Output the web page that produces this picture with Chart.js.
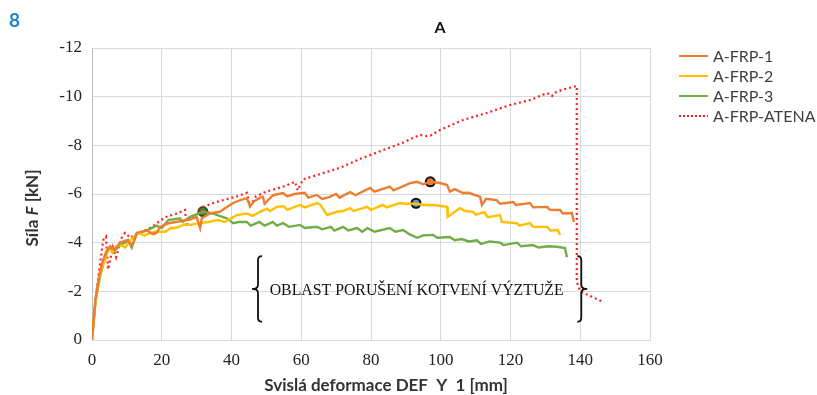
<!DOCTYPE html>
<html>
<head>
<meta charset="utf-8">
<script src="https://cdn.jsdelivr.net/npm/chart.js@4/dist/chart.umd.min.js"></script>
<style>
  html, body { margin: 0; padding: 0; background: #fff; }
  #wrap { width: 817px; height: 395px; position: relative; }
</style>
</head>
<body>
<div id="wrap"><canvas id="myChart" width="817" height="395"></canvas></div>
<script>
// series names and colours
const seriesNames = ["A-FRP-1", "A-FRP-2", "A-FRP-3", "A-FRP-ATENA"];
const seriesColors = ["#ED7D31", "#FFC000", "#70AD47", "#FF2020"];

// A-FRP-1 (deformation mm, force kN)
const frp1X = [0, 1, 2, 3, 4, 5.2, 6.5, 8, 10, 11.5, 12.9, 15.7, 17.5, 18.5, 19.5, 22, 24, 26, 28, 30, 31, 31.5,
  33.8, 36.7, 38.7, 40.5, 42.5, 44.4, 45.3, 46.5, 48.2, 49, 49.5, 51.9, 54.8, 56, 58, 61, 62, 64.5, 66, 68.2,
  70, 71, 74, 75.5, 79.7, 81, 85.4, 86.5, 91.2, 93.2, 95, 97, 99.8, 101.8, 102.6, 104, 106.4, 108, 111.3, 111.8,
  113, 116, 117, 120.8, 121.5, 125.6, 126.5, 130.5, 131.3, 134.2, 135, 137.6, 138.2];
const frp1F = [0, -1.7, -2.6, -3.2, -3.6, -3.85, -3.7, -4.0, -4.1, -3.9, -4.4, -4.5, -4.35, -4.4, -4.65, -4.8, -4.85, -4.9, -4.95, -5.05, -4.6, -5.0,
  -5.2, -5.27, -5.47, -5.63, -5.75, -5.83, -5.5, -5.7, -5.85, -5.88, -5.6, -5.95, -6.04, -5.9, -6.0, -6.05, -5.85, -5.96, -5.8, -5.88,
  -6.0, -5.85, -6.08, -5.95, -6.25, -6.1, -6.3, -6.15, -6.45, -6.5, -6.4, -6.5, -6.45, -6.37, -6.1, -6.2, -6.04, -6.05, -5.88, -5.55,
  -5.8, -5.75, -5.6, -5.67, -5.55, -5.63, -5.45, -5.47, -5.35, -5.34, -5.2, -5.22, -4.85];

// A-FRP-2
const frp2X = [0, 1, 2, 3, 4, 4.6, 6, 7, 8.3, 9.5, 11, 13.2, 15, 18, 21, 22.6, 24, 26.5, 28.4, 30.4, 33.3, 36.1,
  38, 41.5, 44.4, 46, 48.2, 50.2, 51, 53, 55, 56, 59.6, 61, 64.5, 65.5, 67.4, 70.2, 72, 74, 75, 78.9, 80,
  83.4, 84.5, 88.3, 90, 93, 95, 97.8, 101.8, 102, 105.5, 107, 109.2, 110, 112.5, 113.5, 117, 117.5, 121.9, 122.5, 125.6,
  126.5, 130.5, 131.5, 133.6, 134.2];
const frp2F = [0, -1.6, -2.5, -3.0, -3.4, -3.78, -3.6, -3.85, -3.9, -3.8, -4.1, -4.4, -4.3, -4.45, -4.45, -4.6, -4.6, -4.75, -4.73, -4.8, -4.85, -4.93,
  -4.85, -5.13, -5.2, -5.1, -5.27, -5.4, -5.3, -5.47, -5.5, -5.35, -5.55, -5.45, -5.63, -5.55, -5.13, -5.27, -5.3, -5.42, -5.3, -5.47, -5.35,
  -5.55, -5.45, -5.63, -5.6, -5.6, -5.55, -5.55, -5.47, -5.06, -5.42, -5.3, -5.27, -5.15, -5.25, -5.05, -5.13, -4.85, -4.8, -4.7, -4.8,
  -4.65, -4.65, -4.5, -4.52, -4.32];

// A-FRP-3
const frp3X = [0, 1, 2.3, 3.3, 4.3, 5.2, 6, 8, 9.5, 10.4, 11.4, 12.9, 15.7, 18.5, 20, 21.9, 25.2, 26, 28, 31.8, 34.7,
  36.5, 38.7, 40.5, 42, 44.4, 45.5, 48, 49.5, 51.9, 53, 54.8, 56.5, 59.6, 61, 64.5, 66, 68.5, 69.5, 72, 73.5,
  76, 77.5, 79, 81, 85.4, 87, 89.2, 91, 93.2, 95, 97.8, 99, 102.6, 104, 106, 108, 110.4, 111.5, 114, 117, 118,
  121.9, 123, 126.5, 128, 131, 133.3, 135.6, 136.2];
const frp3F = [0, -1.6, -2.6, -3.2, -3.6, -3.8, -3.6, -3.9, -4.0, -4.1, -3.8, -4.4, -4.5, -4.7, -4.6, -4.93, -5.0, -4.85, -5.05, -5.27, -5.2,
  -5.1, -5.0, -4.8, -4.85, -4.85, -4.7, -4.85, -4.7, -4.85, -4.7, -4.8, -4.65, -4.73, -4.6, -4.65, -4.55, -4.65, -4.5, -4.65, -4.5,
  -4.6, -4.45, -4.6, -4.45, -4.6, -4.45, -4.52, -4.35, -4.2, -4.3, -4.32, -4.2, -4.23, -4.1, -4.15, -4.05, -4.1, -3.95, -4.05, -4.0, -3.9,
  -4.0, -3.85, -3.9, -3.8, -3.85, -3.83, -3.78, -3.4];

// A-FRP-ATENA
const atenaX = [0, 1, 1.7, 3.2, 4, 4.3, 4.6, 6, 6.9, 8.5, 9.5, 11, 12.5, 15.2, 17.2, 21, 24.4, 26.7, 27, 28, 30.4, 31.8,
  35.6, 39, 41.5, 44.4, 45.3, 47, 50, 54.8, 58.2, 59, 60.5, 65, 71, 77, 83.4, 89, 94, 96, 97, 99.8, 106.4,
  113.2, 119.9, 125.6, 130.5, 131.9, 132.5, 134.8, 139, 139, 140, 143, 146];
const atenaF = [0, -1.6, -2.47, -4.1, -4.25, -3.6, -2.9, -3.8, -3.4, -4.2, -4.4, -4.2, -4.35, -4.5, -4.65, -5.05, -5.2, -5.35, -4.65, -5.0, -5.2, -5.47,
  -5.67, -5.8, -5.9, -6.05, -5.5, -5.9, -6.1, -6.3, -6.5, -6.15, -6.6, -6.8, -7.07, -7.45, -7.8, -8.1, -8.43, -8.38, -8.4, -8.63, -9.04,
  -9.33, -9.66, -9.86, -10.15, -10.03, -10.15, -10.28, -10.44, -2.4, -2.0, -1.8, -1.6];

// highlighted points (FRP-1, FRP-2, FRP-3)
const markerX = [97, 92.9, 31.8];
const markerF = [-6.5, -5.62, -5.28];
const markerFill = ["#ED7D31", "#5B9BD5", "#548235"];
const markerEdge = ["#111111", "#111111", "#2f4f1c"];

// annotation region (data units)
const zoneLabel = "OBLAST PORUŠENÍ KOTVENÍ VÝZTUŽE";
const zoneX = [47.6, 140.3];
const zoneF = [-3.45, -0.75];

function zip(xs, ys) {
  return xs.map((x, i) => ({ x: x, y: ys[i] }));
}

const lineSets = [
  { label: seriesNames[0], data: zip(frp1X, frp1F), borderColor: seriesColors[0], borderWidth: 2.4 },
  { label: seriesNames[1], data: zip(frp2X, frp2F), borderColor: seriesColors[1], borderWidth: 2.4 },
  { label: seriesNames[2], data: zip(frp3X, frp3F), borderColor: seriesColors[2], borderWidth: 2.4 },
  { label: seriesNames[3], data: zip(atenaX, atenaF), borderColor: seriesColors[3], borderWidth: 2.2, borderDash: [2, 3] },
].map((d) => Object.assign(d, { pointRadius: 0, tension: 0, fill: false }));

const markerSets = markerX.map((x, i) => ({
  label: "marker" + i,
  data: [{ x: x, y: markerF[i] }],
  showLine: false,
  pointRadius: 4.5,
  pointBackgroundColor: markerFill[i],
  pointBorderColor: markerEdge[i],
  pointBorderWidth: 2,
}));

// texts, braces and legend drawn on top
const extras = {
  id: "extras",
  afterDraw(chart) {
    const ctx = chart.ctx;
    const xs = chart.scales.x;
    const ys = chart.scales.y;
    ctx.save();

    // figure number
    ctx.fillStyle = "#1F86C8";
    ctx.font = "bold 19px Lato";
    ctx.textAlign = "left";
    ctx.textBaseline = "middle";
    ctx.fillText("8", 9, 21);

    // title
    ctx.fillStyle = "#111";
    ctx.font = "bold 16px Lato";
    ctx.textAlign = "center";
    ctx.fillText("A", 440, 28);

    // x title
    ctx.fillStyle = "#333";
    ctx.font = "bold 17px Lato";
    ctx.fillText("Svislá deformace DEF  Y  1 [mm]", 386, 386);

    // y title with italic F
    const parts = [["Síla ", "bold 17px Lato"], ["F", "italic bold 17px Lato"], [" [kN]", "bold 17px Lato"]];
    let total = 0;
    parts.forEach((p) => { ctx.font = p[1]; total += ctx.measureText(p[0]).width; });
    ctx.translate(33, 208);
    ctx.rotate(-Math.PI / 2);
    ctx.textAlign = "left";
    let px = -total / 2;
    parts.forEach((p) => {
      ctx.font = p[1];
      ctx.fillText(p[0], px, 0);
      px += ctx.measureText(p[0]).width;
    });
    ctx.setTransform(1, 0, 0, 1, 0, 0);

    // braces
    const lx = xs.getPixelForValue(zoneX[0]);
    const rx = xs.getPixelForValue(zoneX[1]);
    const top = ys.getPixelForValue(zoneF[0]);
    const bot = ys.getPixelForValue(zoneF[1]);
    const mid = (top + bot) / 2;
    ctx.strokeStyle = "#111";
    ctx.lineWidth = 1.8;
    function brace(x, dir) {
      const r = 4;
      ctx.beginPath();
      ctx.moveTo(x + dir * r, top);
      ctx.quadraticCurveTo(x, top, x, top + r);
      ctx.lineTo(x, mid - r);
      ctx.quadraticCurveTo(x, mid, x - dir * 6, mid);
      ctx.quadraticCurveTo(x, mid, x, mid + r);
      ctx.lineTo(x, bot - r);
      ctx.quadraticCurveTo(x, bot, x + dir * r, bot);
      ctx.stroke();
    }
    brace(lx, 1);
    brace(rx, -1);

    ctx.fillStyle = "#111";
    ctx.font = "16px 'Liberation Serif'";
    ctx.textAlign = "center";
    ctx.textBaseline = "middle";
    ctx.fillText(zoneLabel, (lx + rx) / 2 - 3, mid + 2, 294);

    // legend
    ctx.font = "16px Lato";
    ctx.textAlign = "left";
    const rows = [56, 76, 96, 116];
    lineSets.forEach((d, i) => {
      ctx.strokeStyle = d.borderColor;
      ctx.lineWidth = 2;
      ctx.setLineDash(d.borderDash ? [2, 2] : []);
      ctx.beginPath();
      ctx.moveTo(679, rows[i]);
      ctx.lineTo(708, rows[i]);
      ctx.stroke();
      ctx.fillStyle = "#404040";
      ctx.fillText(d.label, 713, rows[i] + 1);
    });
    ctx.restore();
  },
};

const ctx = document.getElementById("myChart").getContext("2d");
const myChart = new Chart(ctx, {
  type: "line",
  data: { datasets: lineSets.concat(markerSets) },
  options: {
    responsive: false,
    animation: false,
    layout: { padding: { left: 0, top: 48, right: 167, bottom: 0 } },
    plugins: { legend: { display: false }, tooltip: { enabled: false } },
    scales: {
      x: {
        type: "linear",
        min: 0,
        max: 160,
        ticks: { stepSize: 20, padding: 10, color: "#222", font: { family: "'Liberation Serif'", size: 17 } },
        grid: { color: "#d9d9d9", drawTicks: false },
        border: { color: "#d9d9d9" },
        afterFit(scale) { scale.height = 55; },
      },
      y: {
        type: "linear",
        min: -12,
        max: 0,
        reverse: true,
        ticks: { stepSize: 2, padding: 10, color: "#222", font: { family: "'Liberation Serif'", size: 17 } },
        grid: { color: "#d9d9d9", drawTicks: false },
        border: { color: "#bfbfbf" },
        afterFit(scale) { scale.width = 92; },
      },
    },
  },
  plugins: [extras],
});
</script>
</body>
</html>
